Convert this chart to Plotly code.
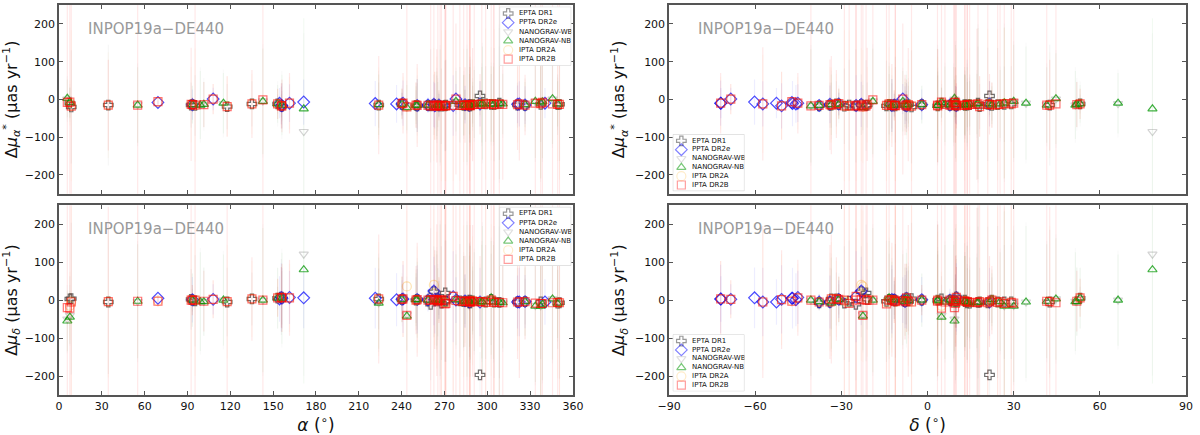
import pandas as pd
import plotly.graph_objects as go
from plotly.subplots import make_subplots

# --------------------
# Pulsar positions (deg)
# --------------------
psr_name = [
    "J0023+0923", "J0030+0451", "J0034-0534", "J0218+4232", "J0340+4130", "J0437-4715",
    "J0610-2100", "J0613-0200", "J0621+1002", "J0636+5128", "J0645+5158", "J0711-6830",
    "J0740+6620", "J0751+1807", "J0900-3144", "J0931-1902", "J1012+5307", "J1017-7156",
    "J1022+1001", "J1024-0719", "J1045-4509", "J1125-6014", "J1125+7819", "J1446-4701",
    "J1455-3330", "J1545-4550", "J1600-3053", "J1603-7202", "J1614-2230", "J1640+2224",
    "J1643-1224", "J1713+0747", "J1721-2457", "J1730-2304", "J1732-5049", "J1738+0333",
    "J1741+1351", "J1744-1134", "J1747-4036", "J1751-2857", "J1801-1417", "J1802-2124",
    "J1804-2717", "J1824-2452A", "J1832-0836", "J1843-1113", "J1853+1303", "J1857+0943",
    "J1903+0327", "J1909-3744", "J1910+1256", "J1911-1114", "J1911+1347", "J1918-0642",
    "J1923+2515", "J1939+2134", "J1944+0907", "J1946+3417", "J1955+2908", "J2010-1323",
    "J2017+0603", "J2019+2425", "J2033+1734", "J2043+1711", "J2124-3358", "J2129-5721",
    "J2145-0750", "J2214+3000", "J2229+2643", "J2234+0944", "J2241-5236", "J2302+4442",
    "J2317+1439", "J2322+2057",
]
psr_ra = [
    5.82, 7.61, 8.59, 34.53, 55.10, 69.32,
    92.56, 93.43, 95.31, 99.02, 101.47, 107.98,
    115.19, 117.79, 135.15, 142.83, 153.14, 154.46,
    155.74, 156.16, 161.46, 171.40, 171.45, 221.52,
    223.95, 236.45, 240.22, 240.97, 243.65, 250.07,
    250.91, 258.46, 260.36, 262.59, 263.20, 264.64,
    265.38, 266.12, 266.95, 267.86, 270.39, 270.55,
    271.04, 276.13, 278.05, 280.80, 283.47, 284.40,
    285.80, 287.45, 287.54, 287.95, 287.96, 289.70,
    290.87, 294.91, 296.16, 296.59, 298.87, 302.74,
    304.34, 304.86, 308.44, 310.84, 321.18, 322.44,
    326.46, 333.66, 337.44, 338.64, 340.42, 345.70,
    349.29, 350.57,
]
psr_dec = [
    9.39, 4.86, -5.58, 42.54, 41.51, -47.25,
    -21.01, -2.01, 10.04, 51.48, 51.98, -68.51,
    66.34, 18.13, -31.74, -19.04, 53.12, -71.95,
    10.03, -7.32, -45.16, -60.24, 78.32, -47.02,
    -33.51, -45.84, -30.90, -72.04, -22.51, 22.40,
    -12.42, 7.79, -24.95, -23.08, -50.82, 3.55,
    13.86, -11.58, -40.62, -28.96, -14.29, -21.41,
    -27.29, -24.87, -8.61, -11.22, 13.06, 9.72,
    3.46, -37.74, 12.94, -11.24, 13.80, -6.70,
    25.26, 21.58, 9.12, 34.29, 29.15, -13.39,
    6.06, 24.42, 17.57, 17.19, -33.98, -57.36,
    -7.84, 30.01, 26.73, 9.74, -52.61, 44.71,
    14.66, 20.97,
]

# --------------------
# Proper-motion differences INPOP19a - DE440 (uas/yr)
# rows: pulsar, d_mu_alpha*, err, d_mu_delta, err
# --------------------
epta_dr1 = [
    ("J0030+0451", -10, 40, 3, 60), ("J0034-0534", -20, 150, 4, 200),
    ("J0218+4232", -15, 160, -5, 190), ("J0610-2100", -15, 60, 2, 80),
    ("J0613-0200", -14, 15, 0, 30), ("J0621+1002", -16, 80, -2, 120),
    ("J0751+1807", -19, 60, -5, 90), ("J0900-3144", -12, 60, 3, 70),
    ("J1012+5307", -12, 25, 5, 30), ("J1022+1001", -17, 30, 8, 100),
    ("J1024-0719", -18, 40, 6, 70), ("J1455-3330", -15, 60, 3, 80),
    ("J1600-3053", -13, 30, 2, 40), ("J1640+2224", -16, 40, 0, 60),
    ("J1643-1224", -17, 60, 2, 80), ("J1713+0747", -16, 10, 0, 15),
    ("J1721-2457", -17, 150, -11, 200), ("J1730-2304", -14, 80, 22, 120),
    ("J1738+0333", -17, 80, 0, 120), ("J1744-1134", -16, 20, 1, 40),
    ("J1751-2857", -18, 100, -8, 150), ("J1801-1417", -17, 120, -3, 160),
    ("J1802-2124", -16, 120, 19, 180), ("J1804-2717", -15, 120, -3, 160),
    ("J1843-1113", -14, 100, -2, 150), ("J1853+1303", -16, 80, -4, 120),
    ("J1857+0943", -15, 40, -3, 70), ("J1909-3744", -17, 10, -7, 20),
    ("J1910+1256", -14, 100, 0, 150), ("J1911+1347", -15, 120, -7, 150),
    ("J1911-1114", -17, 130, -2, 200), ("J1918-0642", -14, 50, -2, 80),
    ("J1939+2134", 9, 40, -197, 60), ("J1955+2908", -12, 100, -5, 150),
    ("J2010-1323", -13, 80, 2, 120), ("J2019+2425", -14, 150, -5, 200),
    ("J2033+1734", -10, 150, -6, 200), ("J2124-3358", -15, 60, -5, 90),
    ("J2145-0750", -16, 40, -4, 60), ("J2229+2643", -13, 100, -5, 150),
    ("J2317+1439", -14, 80, -8, 120), ("J2322+2057", -13, 150, -7, 200),
]

ppta_dr2e = [
    ("J0437-4715", -8, 5, 5, 10), ("J0613-0200", -14, 40, 1, 60),
    ("J0711-6830", 1, 30, 2, 40), ("J1017-7156", -10, 40, 3, 60),
    ("J1022+1001", -16, 50, 7, 90), ("J1024-0719", -17, 60, 5, 80),
    ("J1045-4509", -10, 50, 7, 70), ("J1125-6014", -7, 60, 6, 80),
    ("J1446-4701", -11, 60, 5, 80), ("J1545-4550", -12, 50, 1, 70),
    ("J1600-3053", -12, 30, 2, 50), ("J1603-7202", -10, 60, 3, 90),
    ("J1643-1224", -16, 70, 2, 90), ("J1713+0747", -15, 20, 0, 30),
    ("J1730-2304", -13, 60, 24, 90), ("J1732-5049", -17, 60, 2, 90),
    ("J1744-1134", -15, 30, 1, 50), ("J1824-2452A", -16, 80, 9, 120),
    ("J1832-0836", 1, 40, 0, 60), ("J1857+0943", -14, 50, -2, 70),
    ("J1909-3744", -16, 10, -5, 20), ("J1939+2134", -12, 60, -5, 90),
    ("J2124-3358", -13, 50, -5, 70), ("J2129-5721", -12, 60, -5, 90),
    ("J2145-0750", -15, 50, -4, 70), ("J2241-5236", -10, 40, -5, 60),
]

nanograv_wb = [
    ("J0023+0923", 1, 60, -50, 90), ("J0030+0451", -9, 50, -40, 80),
    ("J0340+4130", -14, 110, -4, 160), ("J0613-0200", -14, 50, 0, 70),
    ("J0636+5128", -15, 100, -3, 140), ("J0645+5158", -13, 70, -4, 90),
    ("J0740+6620", -11, 90, 0, 130), ("J0931-1902", -4, 150, 0, 200),
    ("J1012+5307", -12, 60, 5, 80), ("J1024-0719", -15, 90, 5, 130),
    ("J1125+7819", -85, 260, 121, 320), ("J1455-3330", -14, 90, -7, 130),
    ("J1600-3053", -13, 50, 1, 70), ("J1614-2230", -20, 70, -38, 100),
    ("J1640+2224", -15, 60, 1, 80), ("J1643-1224", -16, 80, 1, 110),
    ("J1713+0747", -15, 20, 0, 25), ("J1738+0333", -16, 100, 0, 140),
    ("J1741+1351", -14, 70, -5, 100), ("J1744-1134", -15, 35, 0, 55),
    ("J1747-4036", -16, 160, 0, 210), ("J1832-0836", -6, 90, 1, 130),
    ("J1853+1303", -15, 90, -4, 130), ("J1857+0943", -14, 50, -3, 70),
    ("J1903+0327", -15, 160, -2, 210), ("J1909-3744", -16, 12, -4, 25),
    ("J1910+1256", -13, 90, -3, 130), ("J1911+1347", -15, 110, -6, 160),
    ("J1918-0642", -13, 70, -1, 100), ("J1923+2515", -12, 100, -4, 140),
    ("J1939+2134", -11, 35, -5, 55), ("J1944+0907", -14, 110, -4, 160),
    ("J1946+3417", -10, 160, -5, 210), ("J2010-1323", -12, 110, 5, 160),
    ("J2017+0603", -13, 110, -5, 160), ("J2033+1734", -11, 210, -6, 260),
    ("J2043+1711", -12, 90, -7, 130), ("J2145-0750", -14, 70, -4, 100),
    ("J2214+3000", -6, 160, -14, 210), ("J2229+2643", -9, 210, -15, 260),
    ("J2234+0944", -6, 160, -10, 210), ("J2302+4442", 1, 130, 3, 170),
    ("J2317+1439", -12, 70, -9, 100),
]

nanograv_nb = [
    ("J0023+0923", 3, 50, -55, 80), ("J0030+0451", -8, 40, -45, 70),
    ("J0340+4130", -15, 100, -3, 150), ("J0613-0200", -14, 50, 0, 70),
    ("J0636+5128", -15, 90, -4, 130), ("J0645+5158", -13, 60, -4, 90),
    ("J0740+6620", -10, 80, 0, 120), ("J0931-1902", -5, 140, 0, 190),
    ("J1012+5307", -12, 50, 5, 80), ("J1024-0719", -15, 80, 5, 120),
    ("J1125+7819", -25, 240, 80, 300), ("J1455-3330", -14, 80, -8, 120),
    ("J1600-3053", -13, 40, 1, 60), ("J1614-2230", -22, 60, -42, 90),
    ("J1640+2224", -15, 50, 1, 70), ("J1643-1224", -16, 70, 1, 100),
    ("J1713+0747", -15, 15, 0, 20), ("J1738+0333", -16, 90, 0, 130),
    ("J1741+1351", -14, 60, -6, 90), ("J1744-1134", -15, 30, 0, 50),
    ("J1747-4036", -17, 150, 0, 200), ("J1832-0836", -5, 80, 1, 120),
    ("J1853+1303", -15, 80, -4, 120), ("J1857+0943", -14, 40, -3, 60),
    ("J1903+0327", -16, 150, -2, 200), ("J1909-3744", -16, 10, -4, 20),
    ("J1910+1256", -13, 80, -3, 120), ("J1911+1347", -15, 100, -7, 150),
    ("J1918-0642", -13, 60, -1, 90), ("J1923+2515", -12, 90, -4, 130),
    ("J1939+2134", -11, 30, -5, 50), ("J1944+0907", -14, 100, -4, 150),
    ("J1946+3417", -10, 150, -5, 200), ("J2010-1323", -12, 100, 6, 150),
    ("J2017+0603", -13, 100, -5, 150), ("J2033+1734", -11, 200, -6, 250),
    ("J2043+1711", -12, 80, -7, 120), ("J2145-0750", -14, 60, -4, 90),
    ("J2214+3000", -5, 150, -16, 200), ("J2229+2643", -9, 200, -16, 250),
    ("J2234+0944", -6, 150, -11, 200), ("J2302+4442", 2, 120, 3, 160),
    ("J2317+1439", -12, 60, -10, 90),
]

ipta_dr2a = [
    ("J0030+0451", -9, 60, -15, 90), ("J0034-0534", -17, 200, -4, 250),
    ("J0218+4232", -15, 140, -4, 200), ("J0437-4715", -7, 10, -2, 15),
    ("J0610-2100", -14, 100, 1, 150), ("J0613-0200", -14, 20, 0, 40),
    ("J0621+1002", -15, 150, 0, 200), ("J0711-6830", 1, 40, 2, 50),
    ("J0751+1807", -18, 80, -4, 150), ("J0900-3144", -12, 80, 3, 100),
    ("J1012+5307", -12, 40, 6, 50), ("J1022+1001", -17, 50, 7, 80),
    ("J1024-0719", -17, 60, 6, 90), ("J1045-4509", -10, 70, 6, 90),
    ("J1455-3330", -15, 100, 3, 150), ("J1600-3053", -11, 40, 2, 60),
    ("J1603-7202", -10, 70, 3, 100), ("J1614-2230", -19, 150, 36, 200),
    ("J1640+2224", -15, 60, 0, 80), ("J1643-1224", -16, 100, 1, 140),
    ("J1713+0747", -16, 15, 0, 20), ("J1730-2304", -14, 150, 40, 200),
    ("J1732-5049", -17, 90, 1, 120), ("J1738+0333", -17, 130, 0, 180),
    ("J1744-1134", -16, 40, 0, 60), ("J1751-2857", -17, 200, -2, 250),
    ("J1801-1417", -16, 200, -6, 250), ("J1804-2717", -17, 200, -6, 250),
    ("J1824-2452A", -16, 200, 9, 250), ("J1843-1113", -16, 200, -3, 250),
    ("J1853+1303", -16, 150, -3, 200), ("J1857+0943", -15, 80, -3, 110),
    ("J1909-3744", -16, 15, -5, 20), ("J1910+1256", -15, 200, -2, 250),
    ("J1911-1114", -17, 200, -4, 250), ("J1918-0642", -14, 120, -2, 170),
    ("J1939+2134", -12, 60, -4, 100), ("J1955+2908", -12, 200, -6, 250),
    ("J2010-1323", -12, 150, 0, 200), ("J2019+2425", -14, 200, -6, 250),
    ("J2124-3358", -14, 100, -5, 130), ("J2129-5721", -12, 130, -5, 180),
    ("J2145-0750", -15, 70, -4, 90), ("J2229+2643", -11, 200, -9, 250),
    ("J2317+1439", -13, 150, -6, 200), ("J2322+2057", -13, 200, -7, 250),
]

ipta_dr2b = [
    ("J0023+0923", -8, 300, -20, 400), ("J0030+0451", -7, 300, -21, 300),
    ("J0034-0534", -18, 400, -5, 400), ("J0218+4232", -15, 120, -4, 250),
    ("J0340+4130", -15, 300, -3, 300), ("J0437-4715", -6, 10, -3, 15),
    ("J0610-2100", -13, 150, 0, 300), ("J0613-0200", -14, 20, 0, 40),
    ("J0621+1002", -15, 350, 0, 400), ("J0645+5158", -14, 60, -3, 80),
    ("J0711-6830", 1, 40, 2, 50), ("J0751+1807", -19, 80, -4, 300),
    ("J0900-3144", -12, 90, 3, 110), ("J0931-1902", -1, 300, 0, 300),
    ("J1012+5307", -12, 40, 6, 50), ("J1022+1001", -17, 60, 7, 80),
    ("J1024-0719", -17, 70, 6, 90), ("J1045-4509", -10, 80, 6, 100),
    ("J1455-3330", -15, 130, 3, 170), ("J1600-3053", -11, 40, 2, 60),
    ("J1603-7202", -10, 80, 3, 100), ("J1614-2230", -20, 400, -40, 300),
    ("J1640+2224", -15, 60, 0, 90), ("J1643-1224", -16, 110, 1, 150),
    ("J1713+0747", -16, 15, 0, 20), ("J1721-2457", -18, 400, 0, 400),
    ("J1730-2304", -15, 300, 2, 300), ("J1732-5049", -17, 90, 1, 130),
    ("J1738+0333", -17, 150, 0, 200), ("J1741+1351", -15, 400, -4, 400),
    ("J1744-1134", -16, 40, 0, 60), ("J1747-4036", -17, 400, 0, 400),
    ("J1751-2857", -17, 300, 0, 350), ("J1801-1417", -16, 400, -10, 400),
    ("J1802-2124", -17, 400, 0, 400), ("J1804-2717", -17, 300, -9, 350),
    ("J1824-2452A", -16, 300, 10, 300), ("J1832-0836", 1, 200, -1, 250),
    ("J1843-1113", -16, 400, -3, 400), ("J1853+1303", -16, 300, -3, 300),
    ("J1857+0943", -15, 100, -3, 120), ("J1903+0327", -15, 400, -3, 400),
    ("J1909-3744", -16, 15, -5, 20), ("J1910+1256", -15, 300, -2, 350),
    ("J1911+1347", -14, 400, -5, 400), ("J1911-1114", -17, 400, -4, 400),
    ("J1918-0642", -14, 150, -2, 200), ("J1923+2515", -13, 300, -4, 300),
    ("J1939+2134", -13, 80, -4, 120), ("J1944+0907", -13, 300, -4, 350),
    ("J1955+2908", -12, 400, -6, 400), ("J2010-1323", -12, 300, 0, 350),
    ("J2017+0603", -13, 300, -5, 300), ("J2019+2425", -14, 400, -6, 400),
    ("J2033+1734", -12, 400, -6, 400), ("J2043+1711", -13, 200, -7, 250),
    ("J2124-3358", -14, 120, -5, 150), ("J2129-5721", -12, 150, -5, 200),
    ("J2145-0750", -15, 80, -4, 100), ("J2214+3000", -10, 300, -8, 300),
    ("J2229+2643", -11, 400, -9, 400), ("J2234+0944", -8, 300, -9, 300),
    ("J2302+4442", -12, 400, -7, 400), ("J2317+1439", -13, 300, -6, 300),
    ("J2322+2057", -13, 400, -7, 400),
]

dataset_names = ["EPTA DR1", "PPTA DR2e", "NANOGRAV-WB", "NANOGRAV-NB", "IPTA DR2A", "IPTA DR2B"]
dataset_rows = [epta_dr1, ppta_dr2e, nanograv_wb, nanograv_nb, ipta_dr2a, ipta_dr2b]

y_ticks = [-200, -100, 0, 100, 200]
ra_ticks = list(range(0, 361, 30))
dec_ticks = list(range(-90, 91, 30))
label_text = "INPOP19a\u2212DE440"

# --------------------
# Marker styles
# --------------------
styles = {
    "EPTA DR1":    dict(symbol="cross-open", color="rgba(85,85,85,0.85)", err="rgba(85,85,85,0.05)", size=8),
    "PPTA DR2e":   dict(symbol="diamond-open", color="rgba(0,0,255,0.7)", err="rgba(0,0,255,0.07)", size=9),
    "NANOGRAV-WB": dict(symbol="triangle-down-open", color="rgba(175,175,175,0.55)", err="rgba(175,175,175,0.06)", size=8),
    "NANOGRAV-NB": dict(symbol="triangle-up-open", color="rgba(0,150,0,0.75)", err="rgba(0,150,0,0.05)", size=8),
    "IPTA DR2A":   dict(symbol="circle-open", color="rgba(255,165,0,0.3)", err="rgba(255,165,0,0.04)", size=9),
    "IPTA DR2B":   dict(symbol="square-open", color="rgba(255,0,0,0.55)", err="rgba(255,0,0,0.09)", size=8),
}

pos = pd.DataFrame({"psr": psr_name, "ra": psr_ra, "dec": psr_dec})

# --------------------
# Figure / layout geometry
# --------------------
W, H = 1200, 435
ml, mr, mt, mb = 59.3, 8.3, 3.3, 34.3
pw, ph = W - ml - mr, H - mt - mb


def px_x(p):
    return (p - ml) / pw


def px_y(p):
    return (H - mb - p) / ph


fig = make_subplots(rows=2, cols=2)

# panel -> (row, col, x column, y column, err column)
panels = [
    (1, 1, "ra", "dmua", "ea"),
    (1, 2, "dec", "dmua", "ea"),
    (2, 1, "ra", "dmud", "ed"),
    (2, 2, "dec", "dmud", "ed"),
]

for name, rows in zip(dataset_names, dataset_rows):
    df = pd.DataFrame(rows, columns=["psr", "dmua", "ea", "dmud", "ed"]).merge(pos, on="psr")
    st = styles[name]
    for r, c, xcol, ycol, ecol in panels:
        fig.add_trace(go.Scatter(
            x=df[xcol], y=df[ycol], mode="markers", name=name, showlegend=False,
            marker=dict(symbol=st["symbol"], size=st["size"], color=st["color"],
                        line=dict(color=st["color"], width=1.2)),
            error_y=dict(type="data", array=df[ecol], color=st["err"], thickness=1.2, width=0),
        ), row=r, col=c)

axis_common = dict(
    showline=True, linecolor="#555", linewidth=1.5, mirror="allticks",
    ticks="inside", ticklen=4, tickwidth=1, tickcolor="#555",
    showgrid=False, zeroline=False,
    tickfont=dict(family="DejaVu Sans", size=11, color="#111"),
)
ytitle_a = "\u0394<i>\u03bc</i><sub><i>\u03b1</i></sub><sup>*</sup> (\u03bcas yr<sup>\u22121</sup>)"
ytitle_d = "\u0394<i>\u03bc</i><sub><i>\u03b4</i></sub> (\u03bcas yr<sup>\u22121</sup>)"
title_font = dict(family="DejaVu Sans", size=16, color="#111")

x_left = [0, px_x(575.7)]
x_right = [px_x(672.3), 1]
y_top = [px_y(195.7), 1]
y_bot = [0, px_y(207.3)]

fig.update_layout(
    xaxis=dict(axis_common, domain=x_left, range=[0, 360], tickvals=ra_ticks, showticklabels=False),
    xaxis2=dict(axis_common, domain=x_right, range=[-90, 90], tickvals=dec_ticks, showticklabels=False),
    xaxis3=dict(axis_common, domain=x_left, range=[0, 360], tickvals=ra_ticks,
                title=dict(text="<i>\u03b1</i> (<sup>\u2218</sup>)", font=dict(title_font, size=17), standoff=7)),
    xaxis4=dict(axis_common, domain=x_right, range=[-90, 90], tickvals=dec_ticks,
                title=dict(text="<i>\u03b4</i> (<sup>\u2218</sup>)", font=dict(title_font, size=17), standoff=7)),
    yaxis=dict(axis_common, domain=y_top, range=[-250, 250], tickvals=y_ticks,
               title=dict(text=ytitle_a, font=title_font, standoff=6)),
    yaxis2=dict(axis_common, domain=y_top, range=[-250, 250], tickvals=y_ticks,
                title=dict(text=ytitle_a, font=title_font, standoff=6)),
    yaxis3=dict(axis_common, domain=y_bot, range=[-250, 250], tickvals=y_ticks,
                title=dict(text=ytitle_d, font=title_font, standoff=6)),
    yaxis4=dict(axis_common, domain=y_bot, range=[-250, 250], tickvals=y_ticks,
                title=dict(text=ytitle_d, font=title_font, standoff=6)),
)

# model label in every panel
for xr, yr in [("x", "y"), ("x2", "y2"), ("x3", "y3"), ("x4", "y4")]:
    fig.add_annotation(
        text=label_text, xref=f"{xr} domain", yref=f"{yr} domain", x=0.052, y=0.875,
        xanchor="left", yanchor="middle", showarrow=False,
        font=dict(family="DejaVu Sans", size=15, color="#999"),
    )

# --------------------
# Small per-panel legends (drawn on helper axes so they stay compact)
# --------------------
legend_boxes = [  # pixel boxes: x0, x1, y0, y1
    (502, 574, 5, 65),
    (502, 574, 209, 269),
    (676, 748, 135, 193),
    (676, 748, 339, 397),
]
rows_idx = list(range(len(dataset_names)))
for k, (bx0, bx1, by0, by1) in enumerate(legend_boxes):
    n = 5 + k
    xa, ya = f"xaxis{n}", f"yaxis{n}"
    fig.update_layout({
        xa: dict(domain=[px_x(bx0), px_x(bx1)], range=[0, 1], anchor=f"y{n}", visible=False, fixedrange=True),
        ya: dict(domain=[px_y(by1), px_y(by0)], range=[5.7, -0.75], anchor=f"x{n}", visible=False, fixedrange=True),
    })
    fig.add_shape(type="rect", xref=f"x{n}", yref=f"y{n}", x0=0, x1=1, y0=-0.75, y1=5.7,
                  fillcolor="rgba(255,255,255,0.85)", line=dict(color="#cccccc", width=1), layer="below")
    fig.add_trace(go.Scatter(
        x=[0.12] * len(rows_idx), y=rows_idx, mode="markers", showlegend=False, hoverinfo="skip",
        marker=dict(symbol=[styles[d]["symbol"] for d in dataset_names],
                    color=[styles[d]["color"] for d in dataset_names],
                    size=[styles[d]["size"] for d in dataset_names],
                    line=dict(color=[styles[d]["color"] for d in dataset_names], width=1.2)),
        xaxis=f"x{n}", yaxis=f"y{n}",
    ))
    fig.add_trace(go.Scatter(
        x=[0.27] * len(rows_idx), y=rows_idx, mode="text", text=dataset_names,
        textposition="middle right", showlegend=False, hoverinfo="skip",
        textfont=dict(family="DejaVu Sans", size=7, color="#111"),
        xaxis=f"x{n}", yaxis=f"y{n}",
    ))

fig.update_layout(
    width=W, height=H,
    margin=dict(l=ml, r=mr, t=mt, b=mb),
    paper_bgcolor="white", plot_bgcolor="white",
    showlegend=False,
)

# drop the browser's default body margin so the figure sits at the page origin
fig.write_html(
    "out.html",
    config={"displayModeBar": False},
    post_script="document.body.style.margin='0px';document.body.style.overflow='hidden';",
)
